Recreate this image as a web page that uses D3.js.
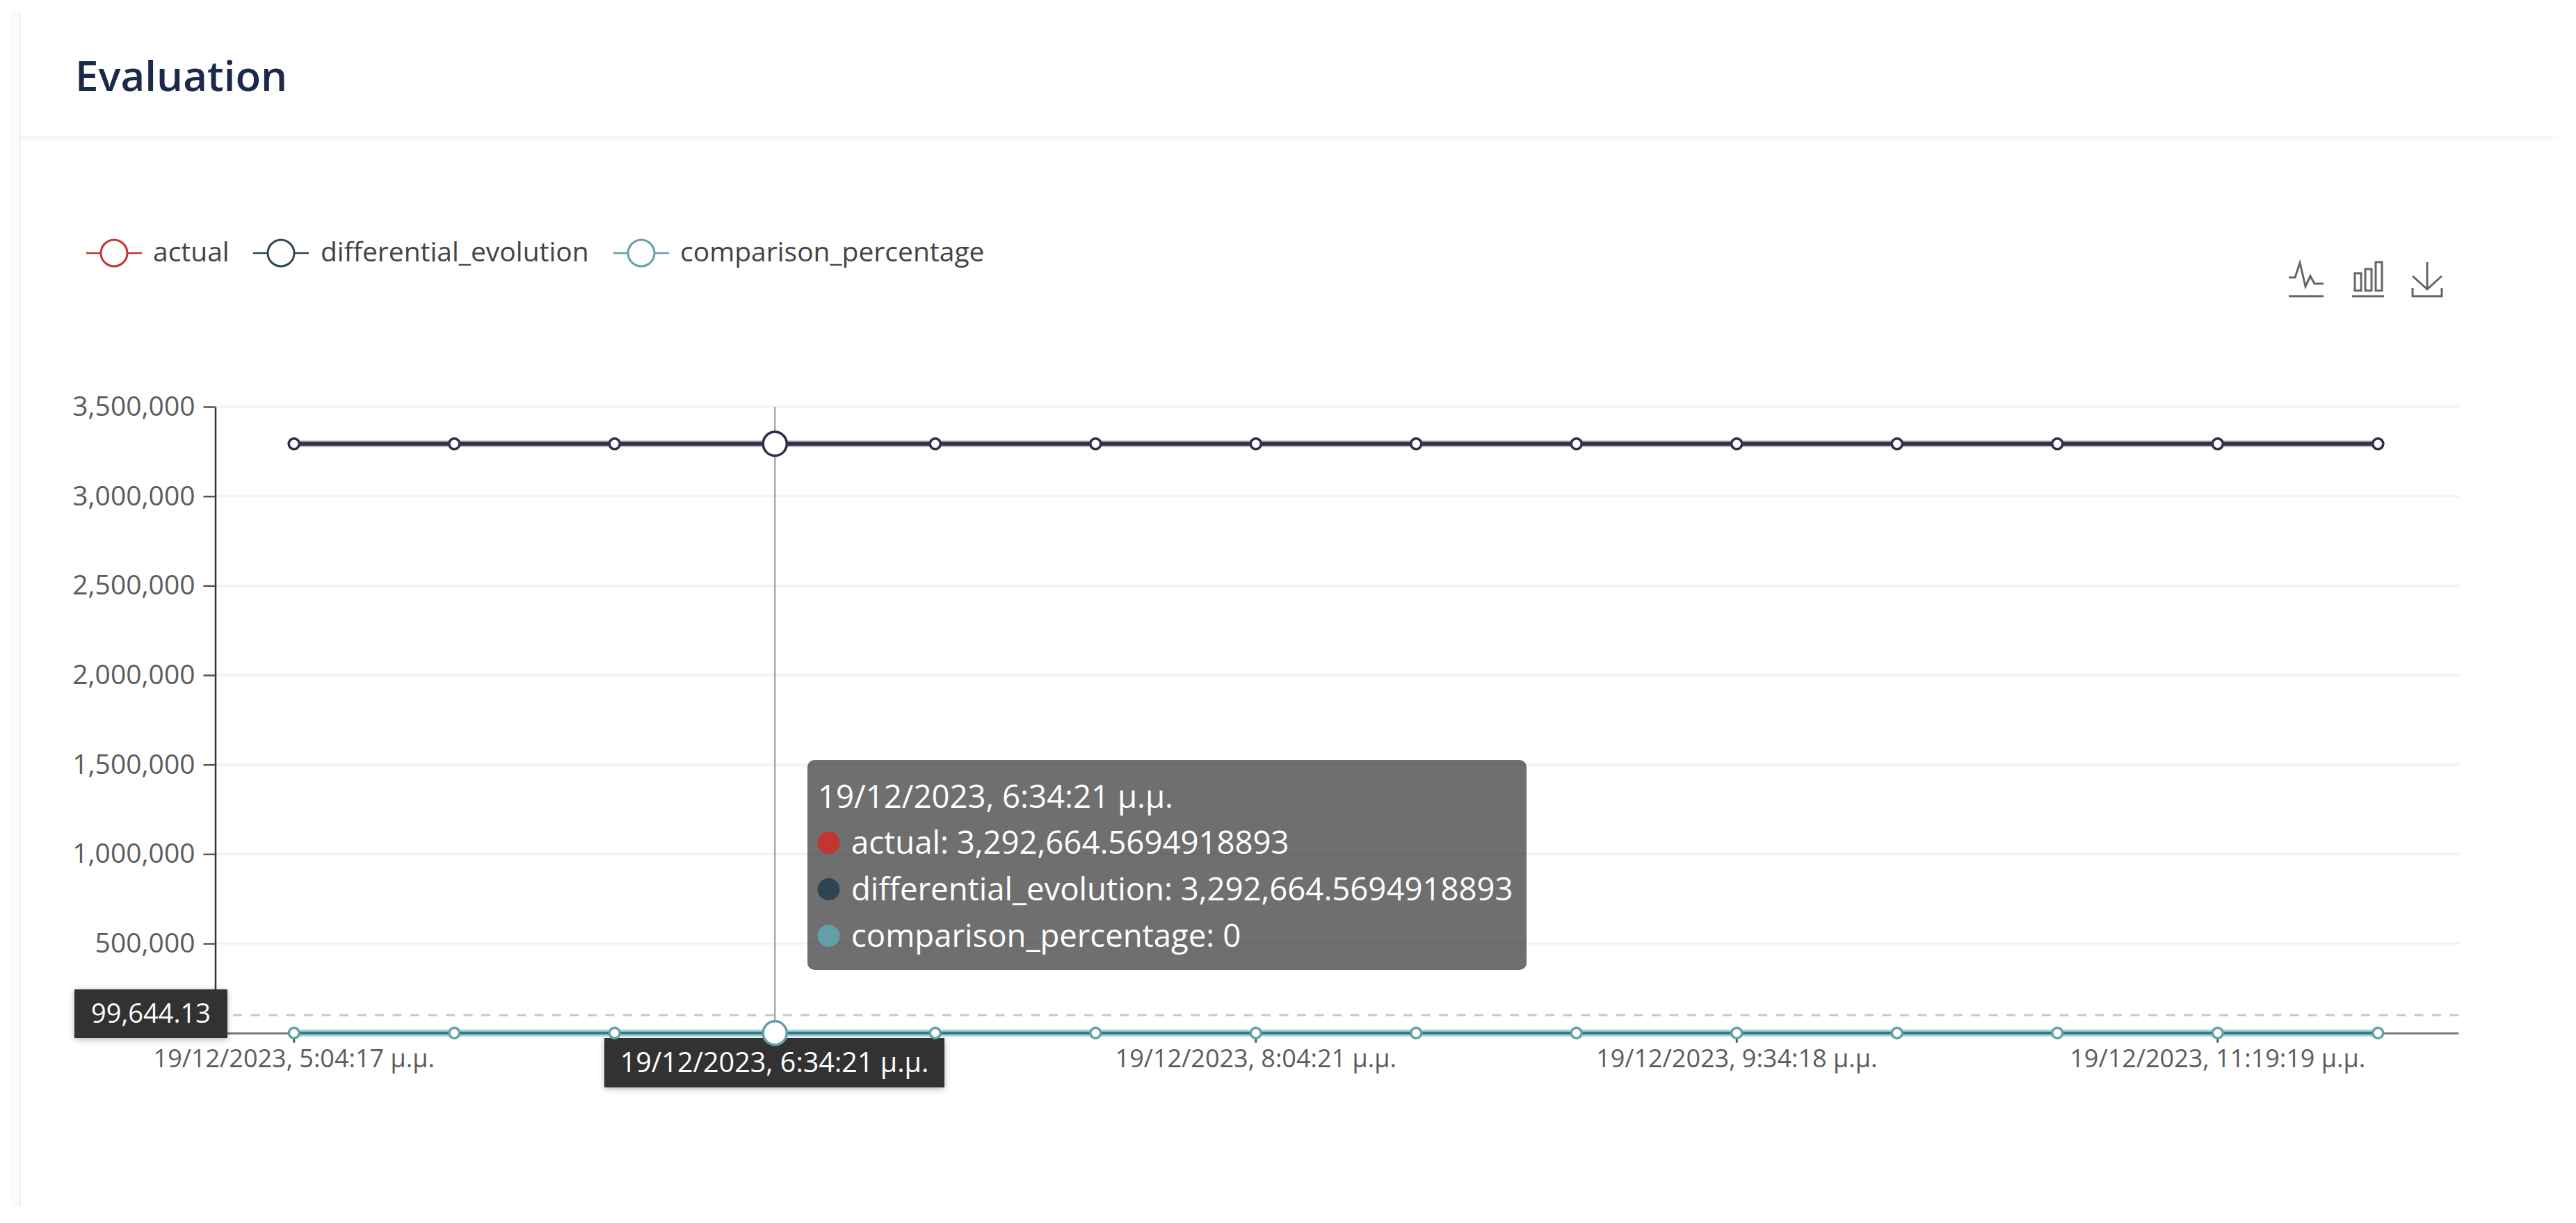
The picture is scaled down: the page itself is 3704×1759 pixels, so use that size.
<!DOCTYPE html>
<html>
<head>
<meta charset="utf-8">
<title>Evaluation</title>
<script src="https://cdnjs.cloudflare.com/ajax/libs/d3/7.8.5/d3.min.js"></script>
<style>
    html, body { margin: 0; padding: 0; background: #fff; overflow: hidden; }
    svg text { font-family: "Open Sans", sans-serif; }
</style>
</head>
<body>
<div id="chart"></div>
<script>
// 数据
const timeLabels = [
    '19/12/2023, 5:04:17 μ.μ.', '19/12/2023, 5:34:20 μ.μ.', '19/12/2023, 6:04:19 μ.μ.',
    '19/12/2023, 6:34:21 μ.μ.', '19/12/2023, 7:04:20 μ.μ.', '19/12/2023, 7:34:20 μ.μ.',
    '19/12/2023, 8:04:21 μ.μ.', '19/12/2023, 8:34:19 μ.μ.', '19/12/2023, 9:04:18 μ.μ.',
    '19/12/2023, 9:34:18 μ.μ.', '19/12/2023, 10:04:20 μ.μ.', '19/12/2023, 10:34:19 μ.μ.',
    '19/12/2023, 11:19:19 μ.μ.', '19/12/2023, 11:49:20 μ.μ.'
];
const shownTimeLabels = [timeLabels[0], timeLabels[3], timeLabels[6], timeLabels[9], timeLabels[12]];
const actual = [
    3292664.5694918893, 3292664.5694918893, 3292664.5694918893, 3292664.5694918893,
    3292664.5694918893, 3292664.5694918893, 3292664.5694918893, 3292664.5694918893,
    3292664.5694918893, 3292664.5694918893, 3292664.5694918893, 3292664.5694918893,
    3292664.5694918893, 3292664.5694918893
];
const differentialEvolution = [
    3292664.5694918893, 3292664.5694918893, 3292664.5694918893, 3292664.5694918893,
    3292664.5694918893, 3292664.5694918893, 3292664.5694918893, 3292664.5694918893,
    3292664.5694918893, 3292664.5694918893, 3292664.5694918893, 3292664.5694918893,
    3292664.5694918893, 3292664.5694918893
];
const comparisonPercentage = [0, 0, 0, 0, 0, 0, 0, 0, 0, 0, 0, 0, 0, 0];
const yTicks = [0, 500000, 1000000, 1500000, 2000000, 2500000, 3000000, 3500000];
const hoverIndex = 3;
const pointerValue = 99644.13;
const seriesNames = ['actual', 'differential_evolution', 'comparison_percentage'];
const seriesColors = ['#c23531', '#2f4554', '#61a0a8'];

// 图表尺寸
const W = 3704, H = 1759;
const left = 309.5, right = 3536.5, top_ = 585, bottom = 1485.7;

const svg = d3.select('#chart').append('svg')
    .attr('width', W).attr('height', H).style('display', 'block');

const defs = svg.append('defs');
const shadow = defs.append('filter').attr('id', 'shadow')
    .attr('x', '-10%').attr('y', '-20%').attr('width', '120%').attr('height', '140%');
shadow.append('feDropShadow').attr('dx', 0).attr('dy', 2).attr('stdDeviation', 4)
    .attr('flood-color', '#000').attr('flood-opacity', 0.3);

// 卡片背景
svg.append('rect').attr('width', W).attr('height', H).attr('fill', '#fff');
svg.append('rect').attr('x', 16).attr('y', 18).attr('width', 14).attr('height', 1717).attr('fill', '#f9fafd');
svg.append('rect').attr('x', 27).attr('y', 18).attr('width', 3).attr('height', 1717).attr('fill', '#eff1f9');
svg.append('rect').attr('x', 30).attr('y', 195).attr('width', 3649).attr('height', 6).attr('fill', '#f7f8fa');

svg.append('text')
    .attr('x', 108).attr('y', 131)
    .attr('font-size', 60).attr('font-weight', 600).attr('fill', '#1c2a4a')
    .text('Evaluation');

// 比例尺
const x = d3.scaleBand().domain(timeLabels).range([left - 2, right - 2]).padding(0);
const cx = d => x(d) + x.bandwidth() / 2;
const y = d3.scaleLinear().domain([0, 3500000]).range([bottom, top_]);

// 网格线
svg.append('g').selectAll('line')
    .data(yTicks.slice(1))
    .enter().append('line')
    .attr('x1', left).attr('x2', right)
    .attr('y1', d => y(d)).attr('y2', d => y(d))
    .attr('stroke', '#f2f2f2').attr('stroke-width', 3);

// Y轴 (0 的标签被指示标签盖住，不显示)
const yAxis = svg.append('g')
    .attr('transform', `translate(${left},0)`)
    .call(d3.axisLeft(y).tickValues(yTicks).tickSize(17).tickSizeOuter(0).tickPadding(12)
        .tickFormat(d => d === 0 ? '' : d3.format(',')(d)));
yAxis.select('.domain').attr('stroke', '#333').attr('stroke-width', 2.5);
yAxis.selectAll('.tick line').attr('stroke', '#555').attr('stroke-width', 2.5);
yAxis.selectAll('text').attr('font-size', 39).attr('fill', '#5c5c5c');

// X轴 (悬停点的标签由指示标签显示)
const xAxis = svg.append('g')
    .attr('transform', `translate(0,${bottom})`)
    .call(d3.axisBottom(x).tickValues(shownTimeLabels).tickSize(14).tickSizeOuter(0).tickPadding(10)
        .tickFormat(d => d === timeLabels[hoverIndex] ? '' : d));
xAxis.select('.domain').attr('stroke', '#777').attr('stroke-width', 3);
xAxis.selectAll('.tick line').attr('stroke', '#555').attr('stroke-width', 3);
xAxis.selectAll('text').attr('font-size', 36).attr('fill', '#5c5c5c');

// 指示线
svg.append('line')
    .attr('x1', cx(timeLabels[hoverIndex])).attr('x2', cx(timeLabels[hoverIndex]))
    .attr('y1', top_).attr('y2', bottom)
    .attr('stroke', '#aaa').attr('stroke-width', 2.5);
svg.append('line')
    .attr('x1', left).attr('x2', right)
    .attr('y1', y(pointerValue)).attr('y2', y(pointerValue))
    .attr('stroke', '#c8c8c8').attr('stroke-width', 3).attr('stroke-dasharray', '13 12.5');

// 坐标轴指示标签
svg.append('rect')
    .attr('x', 107).attr('y', 1423).attr('width', 220).attr('height', 70)
    .attr('fill', '#333').attr('filter', 'url(#shadow)');
svg.append('text')
    .attr('x', 217).attr('y', 1458).attr('dy', '0.35em').attr('text-anchor', 'middle')
    .attr('font-size', 38).attr('fill', '#fff')
    .text(d3.format(',.2f')(pointerValue));
svg.append('rect')
    .attr('x', 869).attr('y', 1493).attr('width', 489).attr('height', 71)
    .attr('fill', '#333').attr('filter', 'url(#shadow)');
svg.append('text')
    .attr('x', 1113.5).attr('y', 1528).attr('dy', '0.35em').attr('text-anchor', 'middle')
    .attr('font-size', 39.5).attr('fill', '#fff')
    .text(timeLabels[hoverIndex]);

// 折线
const line = d3.line().x((d, i) => cx(timeLabels[i])).y(d => y(d));
const allSeries = [actual, differentialEvolution, comparisonPercentage];
const lineColors = ['#e3c4c6', '#2a3350', '#a9d2d8'];
const lineWidths = [10, 6, 10];
allSeries.forEach((values, s) => {
    svg.append('path')
        .datum(values)
        .attr('fill', 'none')
        .attr('stroke', lineColors[s])
        .attr('stroke-width', lineWidths[s])
        .attr('d', line);
});
// 青色线的深色中心
svg.append('path')
    .datum(comparisonPercentage)
    .attr('fill', 'none')
    .attr('stroke', '#2f7c88')
    .attr('stroke-width', 4)
    .attr('d', line);

// 数据点
const markerColors = ['#c23531', '#2a3350', '#61a0a8'];
allSeries.forEach((values, s) => {
    svg.append('g').selectAll('circle')
        .data(values)
        .enter().append('circle')
        .attr('cx', (d, i) => cx(timeLabels[i]))
        .attr('cy', d => y(d))
        .attr('r', (d, i) => i === hoverIndex ? 17 : 7.5)
        .attr('fill', '#fff')
        .attr('stroke', markerColors[s])
        .attr('stroke-width', 3.5);
});

// 图例
const legendLineX = [124, 364, 882];
const legendTextX = [220, 461, 978];
const legendY = 364;
const legend = svg.append('g').selectAll('g')
    .data(seriesNames)
    .enter().append('g');
legend.append('line')
    .attr('x1', (d, i) => legendLineX[i]).attr('x2', (d, i) => legendLineX[i] + 80)
    .attr('y1', legendY).attr('y2', legendY)
    .attr('stroke', (d, i) => seriesColors[i]).attr('stroke-width', 2.5);
legend.append('circle')
    .attr('cx', (d, i) => legendLineX[i] + 40).attr('cy', legendY).attr('r', 19)
    .attr('fill', '#fff')
    .attr('stroke', (d, i) => seriesColors[i]).attr('stroke-width', 3);
legend.append('text')
    .attr('x', (d, i) => legendTextX[i]).attr('y', legendY)
    .attr('dy', '0.3em')
    .attr('font-size', 39).attr('fill', '#444')
    .text(d => d);

// 工具栏图标
const toolbox = svg.append('g')
    .attr('fill', 'none').attr('stroke', '#666').attr('stroke-width', 3);
toolbox.append('path').attr('d', 'M3291,399H3300L3307,378L3315,412L3322,397L3328,408H3341M3291,426H3341');
toolbox.append('path').attr('d', 'M3386,393h9v25h-9ZM3401,387h9v31h-9ZM3416,377h9v41h-9ZM3382,426h46');
toolbox.append('path').attr('d', 'M3490,377V416M3469,397L3490,416L3511,397M3469,414V426H3511V414');

// 提示框
const tipX = 1161, tipY = 1093, tipW = 1034, tipH = 302;
const tip = svg.append('g');
tip.append('rect')
    .attr('x', tipX).attr('y', tipY).attr('width', tipW).attr('height', tipH).attr('rx', 10)
    .attr('fill', 'rgba(50,50,50,0.7)');
const tipFont = 45.5;
tip.append('text')
    .attr('x', 1176).attr('y', 1146).attr('dy', '0.35em')
    .attr('font-size', tipFont).attr('fill', '#fff')
    .text(timeLabels[hoverIndex]);
const fullNumber = v => v.toLocaleString('en-US', {maximumFractionDigits: 10});
const tipRows = allSeries.map((values, s) => `${seriesNames[s]}: ${fullNumber(values[hoverIndex])}`);
const tipRowY = [1212, 1279, 1346];
tip.selectAll('circle')
    .data(tipRows)
    .enter().append('circle')
    .attr('cx', 1191.5).attr('cy', (d, i) => tipRowY[i]).attr('r', 16)
    .attr('fill', (d, i) => seriesColors[i]);
tip.selectAll('text.row')
    .data(tipRows)
    .enter().append('text')
    .attr('class', 'row')
    .attr('x', 1224).attr('y', (d, i) => tipRowY[i]).attr('dy', '0.35em')
    .attr('font-size', tipFont).attr('fill', '#fff')
    .text(d => d);
</script>
</body>
</html>
